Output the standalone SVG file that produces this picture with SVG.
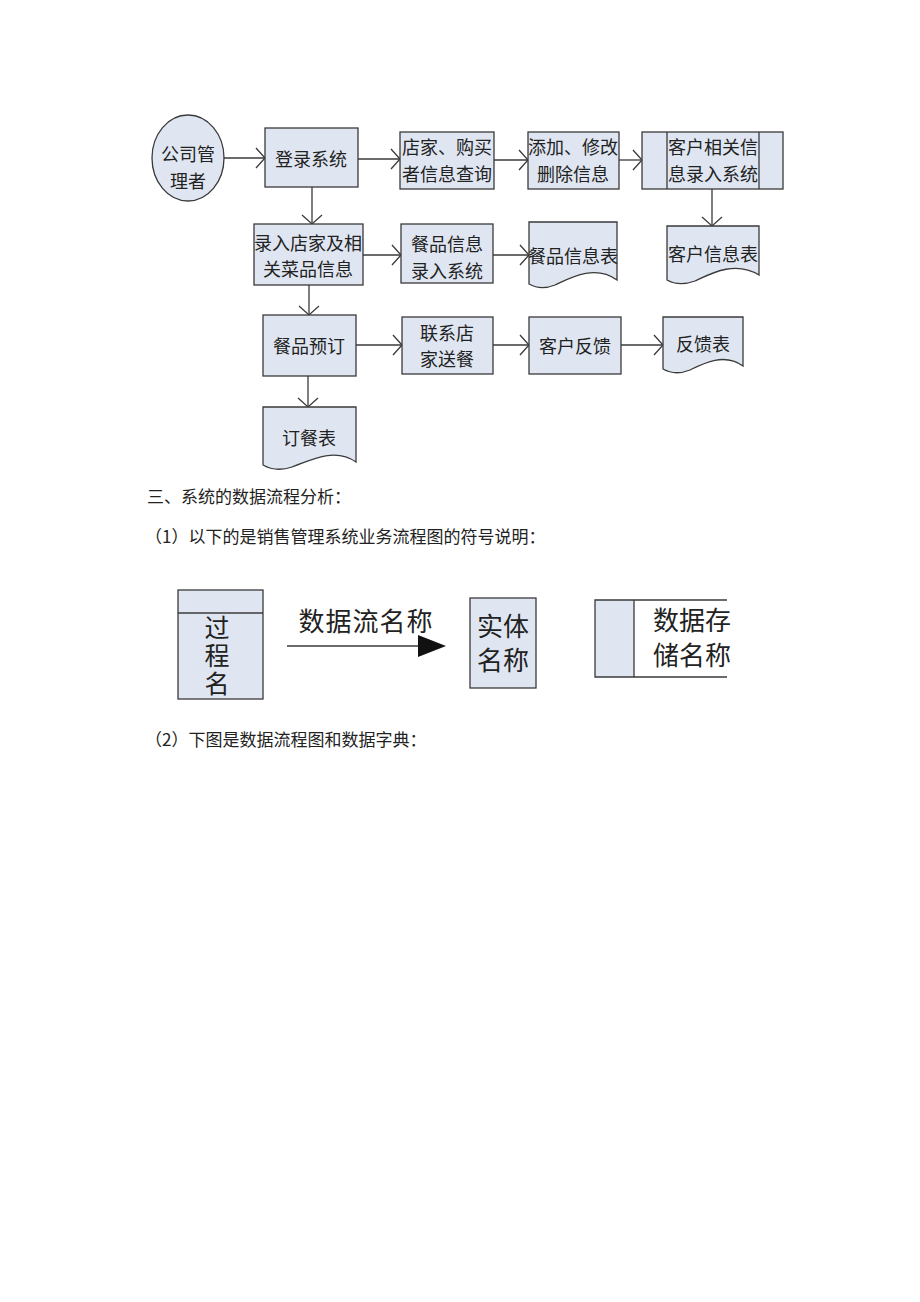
<svg xmlns="http://www.w3.org/2000/svg" width="920" height="1302" viewBox="0 0 920 1302">
<style>
.box{fill:#dfe6f1;stroke:#3a3a3a;stroke-width:1.3}
.ln{fill:none;stroke:#3a3a3a;stroke-width:1.3}
.t{font-family:"Noto Sans CJK SC","Liberation Serif",sans-serif;font-size:18px;fill:#222;text-anchor:middle;dominant-baseline:central}
.body{font-family:"Noto Sans CJK SC","Liberation Serif",sans-serif;font-size:17px;fill:#222}
.lg{font-family:"Noto Sans CJK SC","Liberation Serif",sans-serif;font-size:26px;fill:#222;text-anchor:middle;dominant-baseline:central}
.con{fill:none;stroke:#3a3a3a;stroke-width:1.3;marker-end:url(#open)}
</style>
<defs>
<marker id="open" markerUnits="userSpaceOnUse" markerWidth="12" markerHeight="22" refX="9" refY="10" orient="auto" overflow="visible">
<path d="M0,0 L9,10 L0,20" fill="none" stroke="#3a3a3a" stroke-width="1.3"/>
</marker>
</defs>
<rect width="920" height="1302" fill="#ffffff"/>

<g id="connectors">
<line class="con" x1="224" y1="158" x2="265" y2="158"/>
<line class="con" x1="358" y1="159" x2="400" y2="159"/>
<line class="con" x1="494" y1="160" x2="528" y2="160"/>
<line class="con" x1="619" y1="160" x2="642" y2="160"/>
<line class="con" x1="312" y1="187" x2="312" y2="224"/>
<line class="con" x1="712" y1="189" x2="712" y2="226"/>
<line class="con" x1="363" y1="255" x2="401" y2="255"/>
<line class="con" x1="493" y1="255" x2="529" y2="255"/>
<line class="con" x1="309" y1="285" x2="309" y2="315"/>
<line class="con" x1="356" y1="345" x2="402" y2="345"/>
<line class="con" x1="493" y1="345" x2="529" y2="345"/>
<line class="con" x1="621" y1="345" x2="663" y2="345"/>
<line class="con" x1="308" y1="376" x2="308" y2="407"/>
</g>

<g id="n-manager">
<ellipse class="box" cx="188" cy="158" rx="36" ry="43"/>
<text class="t" x="188" y="153">公司管</text>
<text class="t" x="188" y="180">理者</text>
</g>
<g id="n-login">
<rect class="box" x="265" y="128" width="93" height="59"/>
<text class="t" x="311" y="158">登录系统</text>
</g>
<g id="n-query">
<rect class="box" x="400" y="132" width="94" height="57"/>
<text class="t" x="447" y="146">店家、购买</text>
<text class="t" x="447" y="173">者信息查询</text>
</g>
<g id="n-edit">
<rect class="box" x="528" y="132" width="91" height="57"/>
<text class="t" x="573" y="146">添加、修改</text>
<text class="t" x="573" y="173">删除信息</text>
</g>
<g id="n-custsys">
<rect class="box" x="642" y="132" width="141" height="57"/>
<line class="ln" x1="667" y1="132" x2="667" y2="189"/>
<line class="ln" x1="759" y1="132" x2="759" y2="189"/>
<text class="t" x="713" y="146">客户相关信</text>
<text class="t" x="713" y="173">息录入系统</text>
</g>
<g id="n-custtable">
<path class="box" d="M667,226 H759 V275 C735,260 710,274 695,281 C684,285 674,284 667,280 Z"/>
<text class="t" x="713" y="253">客户信息表</text>
</g>
<g id="n-shopinput">
<rect class="box" x="254" y="224" width="109" height="61"/>
<text class="t" x="308" y="242">录入店家及相</text>
<text class="t" x="308" y="268">关菜品信息</text>
</g>
<g id="n-foodsys">
<rect class="box" x="401" y="224" width="92" height="59"/>
<text class="t" x="447" y="243">餐品信息</text>
<text class="t" x="447" y="270">录入系统</text>
</g>
<g id="n-foodtable">
<path class="box" d="M529,222 H617 V280 C595,264 570,278 555,285 C545,289 536,288 529,284 Z"/>
<text class="t" x="573" y="255">餐品信息表</text>
</g>
<g id="n-order">
<rect class="box" x="263" y="315" width="93" height="61"/>
<text class="t" x="309" y="345">餐品预订</text>
</g>
<g id="n-deliver">
<rect class="box" x="402" y="317" width="91" height="57"/>
<text class="t" x="447" y="332">联系店</text>
<text class="t" x="447" y="358">家送餐</text>
</g>
<g id="n-feedback">
<rect class="box" x="529" y="317" width="92" height="57"/>
<text class="t" x="575" y="345">客户反馈</text>
</g>
<g id="n-feedtable">
<path class="box" d="M663,317 H743 V366 C724,352 702,364 690,370 C680,374 670,373 663,369 Z"/>
<text class="t" x="703" y="343">反馈表</text>
</g>
<g id="n-ordertable">
<path class="box" d="M263,407 H356 V462 C334,446 307,462 292,467 C280,471 270,469 263,465 Z"/>
<text class="t" x="309" y="437">订餐表</text>
</g>

<g id="body-text">
<text class="body" x="147" y="503">三、系统的数据流程分析：</text>
<text class="body" x="145" y="543">（1）以下的是销售管理系统业务流程图的符号说明：</text>
<text class="body" x="145" y="746">（2）下图是数据流程图和数据字典：</text>
</g>

<g id="legend-process">
<rect class="box" x="178" y="590" width="85" height="109"/>
<line class="ln" x1="178" y1="613" x2="263" y2="613"/>
<text x="217" y="657" writing-mode="vertical-rl" letter-spacing="3" font-family="Noto Sans CJK SC, sans-serif" font-size="25" fill="#222" text-anchor="middle">过程名</text>
</g>
<g id="legend-flow">
<line class="ln" x1="287" y1="646" x2="420" y2="646"/>
<polygon points="418,635 446,646 418,657" fill="#111"/>
<text class="lg" x="366" y="619" letter-spacing="1">数据流名称</text>
</g>
<g id="legend-entity">
<rect class="box" x="470" y="598" width="66" height="90"/>
<text class="lg" x="503" y="624">实体</text>
<text class="lg" x="503" y="658">名称</text>
</g>
<g id="legend-store">
<rect x="595" y="600" width="39" height="77" fill="#dfe6f1"/>
<polyline class="ln" points="727,600 595,600 595,677 727,677"/>
<line class="ln" x1="634" y1="600" x2="634" y2="677"/>
<text class="lg" x="692" y="618">数据存</text>
<text class="lg" x="692" y="653">储名称</text>
</g>
</svg>
